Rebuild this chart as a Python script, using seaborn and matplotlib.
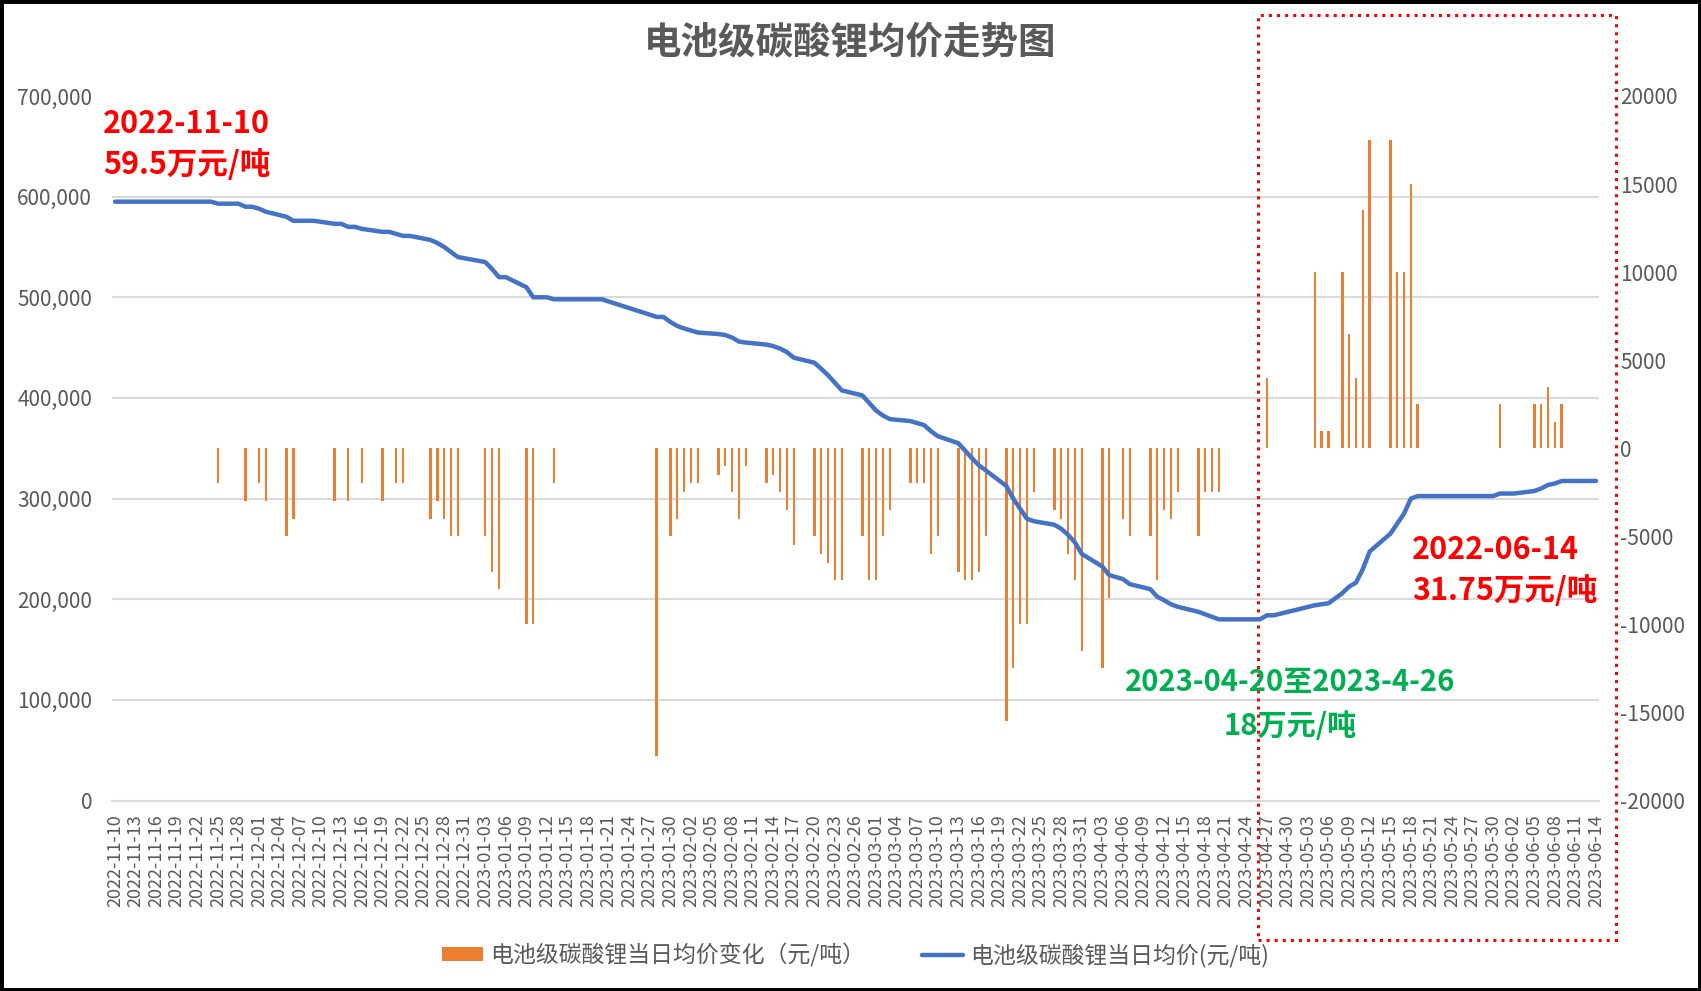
import seaborn as sns
import matplotlib.pyplot as plt
import pandas as pd
import numpy as np
from matplotlib.patches import Rectangle, Patch
from matplotlib.lines import Line2D
from matplotlib.ticker import FuncFormatter, FixedLocator

# daily change of battery-grade lithium carbonate price (yuan/t), 2022-11-10 .. 2023-06-14
nov_change = [0, 0, 0, 0, 0, 0, 0, 0, 0, 0,
              0, 0, 0, 0, 0, -2000, 0, 0, 0, -3000,
              0]
dec_change = [-2000, -3000, 0, 0, -5000, -4000, 0, 0, 0, 0,
              0, -3000, 0, -3000, 0, -2000, 0, 0, -3000, 0,
              -2000, -2000, 0, 0, 0, -4000, -3000, -4000, -5000, -5000, 0]
jan_change = [0, 0, -5000, -7000, -8000, 0, 0, 0, -10000, -10000,
              0, 0, -2000, 0, 0, 0, 0, 0, 0, 0,
              0, 0, 0, 0, 0, 0, 0, -17500, 0, -5000, -4000]
feb_change = [-2500, -2000, -2000, 0, 0, -1500, -1000, -2500, -4000, -1000,
              0, 0, -2000, -1500, -2500, -3500, -5500, 0, 0, -5000,
              -6000, -6500, -7500, -7500, 0, 0, -5000, -7500]
mar_change = [-7500, -5000, -3500, 0, 0, -2000, -2000, -2000, -6000, -5000,
              0, 0, -7000, -7500, -7500, -7000, -5000, 0, 0, -15500,
              -12500, -10000, -10000, -2500, 0, 0, -3500, -4000, -6000, -7500, -11500]
apr_change = [0, 0, -12500, -8500, 0, -4000, -5000, 0, 0, -5000,
              -7500, -3500, -4000, -2500, 0, 0, -5000, -2500, -2500, -2500,
              0, 0, 0, 0, 0, 0, 4000, 0, 0, 0]
may_change = [0, 0, 0, 10000, 1000, 1000, 0, 10000, 6500, 4000,
              13500, 17500, 0, 0, 17500, 10000, 10000, 15000, 2500, 0,
              0, 0, 0, 0, 0, 0, 0, 0, 0, 0, 2500]
jun_change = [0, 0, 0, 0, 2500, 2500, 3500, 1500, 2500, 0,
              0, 0, 0, 0]

# daily average price (yuan/t); None = no quote that day (weekend / holiday)
nov_price = [595000, 595000, None, None, 595000, 595000, 595000, 595000, 595000, None,
             None, 595000, 595000, 595000, 595000, 593000, None, None, 593000, 590000,
             590000]
dec_price = [588000, 585000, None, None, 580000, 576000, 576000, 576000, 576000, None,
             None, 573000, 573000, 570000, 570000, 568000, None, None, 565000, 565000,
             563000, 561000, 561000, None, None, 557000, 554000, 550000, 545000, 540000, None]
jan_price = [None, None, 535000, 528000, 520000, 520000, None, None, 510000, 500000,
             500000, 500000, 498000, None, None, 498000, 498000, 498000, 498000, 498000,
             None, None, None, None, None, None, None, 480500, 480500, 475500, 471500]
feb_price = [469000, 467000, 465000, None, None, 463500, 462500, 460000, 456000, 455000,
             None, None, 453000, 451500, 449000, 445500, 440000, None, None, 435000,
             429000, 422500, 415000, 407500, None, None, 402500, 395000]
mar_price = [387500, 382500, 379000, None, None, 377000, 375000, 373000, 367000, 362000,
             None, None, 355000, 347500, 340000, 333000, 328000, None, None, 312500,
             300000, 290000, 280000, 277500, None, None, 274000, 270000, 264000, 256500, 245000]
apr_price = [None, None, 232500, 224000, None, 220000, 215000, None, None, 210000,
             202500, 199000, 195000, 192500, None, None, 187500, 185000, 182500, 180000,
             180000, None, 180000, 180000, 180000, 180000, 184000, 184000, None, None]
may_price = [None, None, None, 194000, 195000, 196000, None, 206000, 212500, 216500,
             230000, 247500, None, None, 265000, 275000, 285000, 300000, 302500, None,
             None, 302500, 302500, 302500, 302500, 302500, None, None, 302500, 302500, 305000]
jun_price = [305000, 305000, None, None, 307500, 310000, 313500, 315000, 317500, None,
             None, 317500, 317500, 317500]

daily_change = (nov_change + dec_change + jan_change + feb_change + mar_change
                + apr_change + may_change + jun_change)
avg_price = (nov_price + dec_price + jan_price + feb_price + mar_price
             + apr_price + may_price + jun_price)
day_labels = [d.strftime('%Y-%m-%d') for d in pd.date_range('2022-11-10', '2023-06-14')]

df = pd.DataFrame({'date': day_labels, 'change': daily_change,
                   'price': pd.array(avg_price, dtype='Float64').astype(float)})
df['pos'] = np.arange(len(df))
quoted = df.dropna(subset=['price'])

bar_label = '电池级碳酸锂当日均价变化（元/吨）'
line_label = '电池级碳酸锂当日均价(元/吨)'
grey = '#595959'
orange = '#ED7D31'
blue = '#4472C4'

sns.set_style("white")
plt.rcParams['font.family'] = ['Noto Sans CJK SC', 'DejaVu Sans']

W, H = 1701, 991
fig = plt.figure(figsize=(W / 100, H / 100), dpi=100)
ax = fig.add_axes([111.6 / W, 1 - 800.5 / H, (1599.4 - 111.6) / W, (800.5 - 96) / H])
ax2 = ax.twinx()

# bars on the secondary (right) axis
sns.barplot(data=df, x='date', y='change', ax=ax2, color=orange, saturation=1,
            width=0.36, errorbar=None, linewidth=0)
# price line on the primary (left) axis, drawn above the bars
sns.lineplot(data=quoted, x='pos', y='price', ax=ax, color=blue, linewidth=3.2,
             solid_joinstyle='round', solid_capstyle='round', errorbar=None)
ax.set_zorder(ax2.get_zorder() + 1)
ax.patch.set_visible(False)

ax.set_xlim(-0.5, len(df) - 0.5)
ax.set_ylim(0, 700000)
ax2.set_ylim(-20000, 20000)

# gridlines (spaced to the left axis) drawn behind the bars
ax2.yaxis.set_minor_locator(FixedLocator(np.linspace(-20000, 20000, 8)))
ax2.grid(True, which='minor', axis='y', color='#D9D9D9', linewidth=1.5)
ax2.grid(False, which='major')
ax2.set_axisbelow(True)
ax2.tick_params(axis='y', which='minor', length=0)
ax.grid(False)

ax.set_yticks(range(0, 700001, 100000))
ax.yaxis.set_major_formatter(FuncFormatter(lambda v, p: f'{v:,.0f}'))
ax2.set_yticks(range(-20000, 20001, 5000))
ax2.yaxis.set_major_formatter(FuncFormatter(lambda v, p: f'{int(v)}'))
ax.tick_params(axis='y', length=0, pad=14, labelsize=15, labelcolor=grey)
ax2.tick_params(axis='y', which='major', length=0, pad=15, labelsize=15, labelcolor=grey)

ticks = np.arange(0, len(df), 3)
ax.set_xticks(ticks)
ax.set_xticklabels([day_labels[i] for i in ticks], rotation=90)
ax.set_xticks(ticks - 0.5, minor=True)
ax.tick_params(axis='x', which='major', length=0, pad=10, labelsize=13, labelcolor=grey)
ax.tick_params(axis='x', which='minor', length=6, width=1.3, color='#D9D9D9')
ax.set_xlabel('')
ax.set_ylabel('')
ax2.set_xlabel('')
ax2.set_ylabel('')

for a in (ax, ax2):
    for s in a.spines.values():
        s.set_visible(False)
ax.spines['bottom'].set_visible(True)
ax.spines['bottom'].set_color('#D9D9D9')
ax.spines['bottom'].set_linewidth(1.5)

# title and annotations
fig.text(0.5, 1 - 43 / H, '电池级碳酸锂均价走势图', ha='center', va='center',
         fontsize=27, fontweight='bold', color=grey)
red_kw = dict(color='#FF0000', fontsize=22, fontweight='bold', va='center', ha='left')
fig.text(103 / W, 1 - 124 / H, '2022-11-10', **red_kw)
fig.text(103 / W, 1 - 165 / H, '59.5万元/吨', **red_kw)
fig.text(1412 / W, 1 - 550 / H, '2022-06-14', **red_kw)
fig.text(1412 / W, 1 - 591 / H, '31.75万元/吨', **red_kw)
green_kw = dict(color='#00B050', fontsize=21, fontweight='bold', va='center', ha='center')
fig.text(1290 / W, 1 - 682 / H, '2023-04-20至2023-4-26', **green_kw)
fig.text(1290 / W, 1 - 726 / H, '18万元/吨', **green_kw)

# dotted highlight box and outer border
fig.add_artist(Rectangle((1258 / W, 1 - 940 / H), (1616 - 1258) / W, (940 - 15) / H,
                         transform=fig.transFigure, fill=False, edgecolor='#FF0000',
                         linestyle=':', linewidth=2.2))
fig.add_artist(Rectangle((0, 0), 1, 1, transform=fig.transFigure, fill=False,
                         edgecolor='black', linewidth=5))

handles = [Patch(facecolor=orange, edgecolor='none'),
           Line2D([0], [0], color=blue, linewidth=3.2)]
leg = fig.legend(handles, [bar_label, line_label], loc='center',
                 bbox_to_anchor=(0.503, 1 - 955 / H), ncol=2, frameon=False,
                 fontsize=16.5, handlelength=1.8, handleheight=0.55,
                 handletextpad=0.3, columnspacing=2.5)
for t in leg.get_texts():
    t.set_color(grey)

fig.savefig('out.png', dpi=100)
